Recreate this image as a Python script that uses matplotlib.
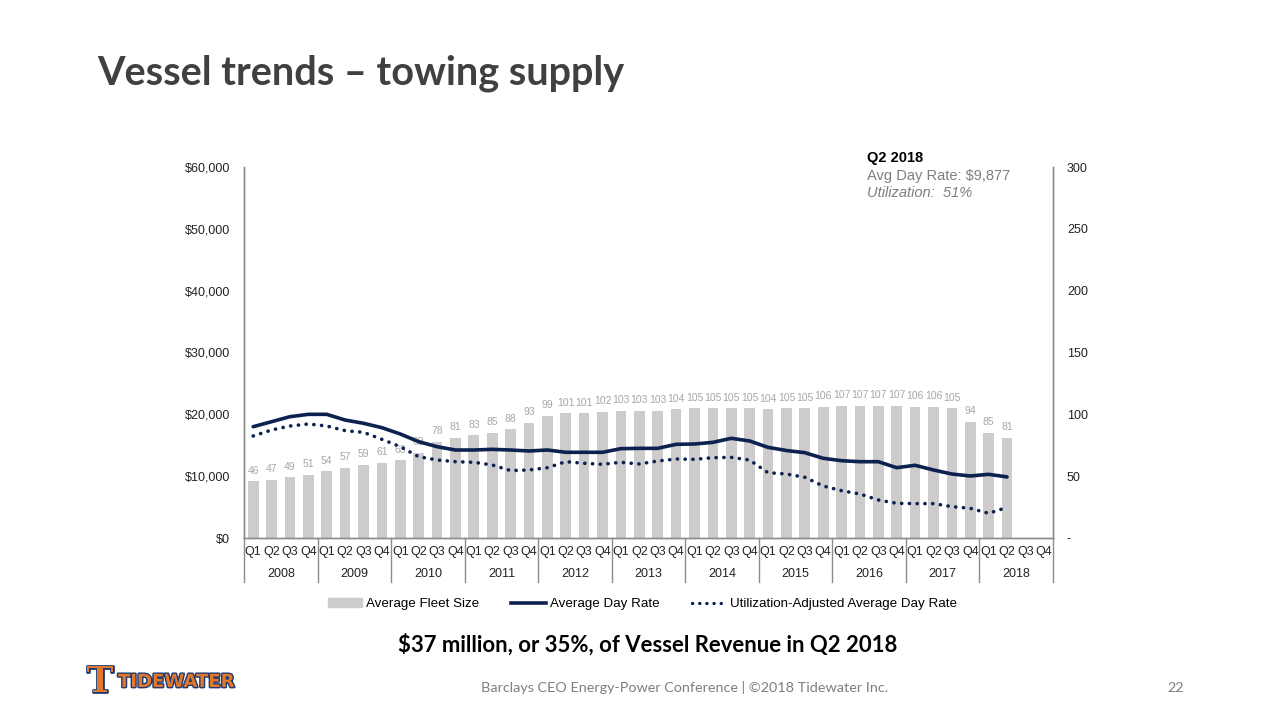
import matplotlib.pyplot as plt
import matplotlib.transforms as mtransforms
from matplotlib.lines import Line2D
from matplotlib.patches import Patch
import matplotlib.patheffects as pe

plt.rcParams['font.family'] = ['Liberation Sans', 'DejaVu Sans']

# data
years = ['2008', '2009', '2010', '2011', '2012', '2013',
         '2014', '2015', '2016', '2017', '2018']
quarters = ['Q1', 'Q2', 'Q3', 'Q4']

fleet_size = [46, 47, 49, 51, 54, 57, 59, 61, 63, 69, 78, 81,
              83, 85, 88, 93, 99, 101, 101, 102, 103, 103, 103, 104,
              105, 105, 105, 105, 104, 105, 105, 106, 107, 107, 107, 107,
              106, 106, 105, 94, 85, 81]

day_rate = [18000, 18810, 19620, 20000, 20000, 19080, 18550, 17840,
            16820, 15580, 14770, 14230, 14230, 14340, 14230, 14070,
            14230, 13860, 13860, 13860, 14450, 14500, 14500, 15150,
            15200, 15470, 16120, 15690, 14660, 14150, 13800, 12890,
            12500, 12340, 12340, 11370, 11760, 11000, 10350, 10030,
            10300, 9877]

util_rate = [16500, 17470, 18110, 18440, 18110, 17360, 17090, 15960,
             14770, 13150, 12620, 12340, 12240, 11810, 10900, 11000,
             11370, 12340, 12080, 11920, 12240, 11970, 12450, 12780,
             12720, 12990, 13040, 12610, 10560, 10350, 9820, 8410,
             7650, 7120, 6150, 5610, 5560, 5560, 5070, 4800,
             3990, 4950]

navy = '#0D2150'
bar_grey = '#CDCBCC'
axis_grey = '#8C8C8C'
dots = (0, (0.05, 2.1))

fig = plt.figure(figsize=(12.8, 7.2), dpi=100)

# main chart area
ax = fig.add_axes([244 / 1280, 182 / 720, 809 / 1280, 371 / 720])
ax2 = ax.twinx()
ax.set_zorder(ax2.get_zorder() + 1)
ax.patch.set_visible(False)

n_slots = len(years) * len(quarters)
x = list(range(len(fleet_size)))

bars = ax2.bar(x, fleet_size, width=0.58, color=bar_grey)
ax2.bar_label(bars, labels=[str(v) for v in fleet_size], padding=4,
              fontsize=7.5, color='#A6A6A6')

ax.plot(x, day_rate, color=navy, lw=2.6, solid_capstyle='round')
ax.plot(x, util_rate, color=navy, lw=2.6, linestyle=dots,
        dash_capstyle='round')

ax.set_xlim(-0.5, n_slots - 0.5)
ax.set_ylim(0, 60000)
ax2.set_ylim(0, 300)

ax.set_yticks(range(0, 60001, 10000))
ax.set_yticklabels(['${:,}'.format(v) for v in range(0, 60001, 10000)])
ax2.set_yticks(range(0, 301, 50))
ax2.set_yticklabels(['-'] + [str(v) for v in range(50, 301, 50)])

for a in (ax, ax2):
    a.tick_params(axis='y', length=0, labelsize=9, colors='#222222', pad=10)
    a.spines['top'].set_visible(False)
    for s in ('left', 'right', 'bottom'):
        a.spines[s].set_color(axis_grey)
        a.spines[s].set_linewidth(1)

ax.set_xticks(range(n_slots))
ax.set_xticklabels(quarters * len(years))
ax.tick_params(axis='x', length=0, labelsize=9, colors='#222222', pad=6)
ax2.tick_params(axis='x', length=0)

# year row and dividers under the quarter labels
trans = mtransforms.blended_transform_factory(ax.transData, ax.transAxes)
for i, yr in enumerate(years):
    ax.text(i * 4 + 1.5, -0.097, yr, transform=trans, ha='center',
            va='center', fontsize=9, color='#222222')
for i in range(len(years) + 1):
    ax.plot([i * 4 - 0.5, i * 4 - 0.5], [0, -0.119], transform=trans,
            color=axis_grey, lw=1, clip_on=False)

# callout
fig.text(867 / 1280, 1 - 158 / 720, 'Q2 2018', fontsize=10.5,
         fontweight='bold', color='black', va='center')
fig.text(867 / 1280, 1 - 176 / 720, 'Avg Day Rate: $9,877', fontsize=10.5,
         color='#7F7F7F', va='center')
fig.text(867 / 1280, 1 - 193 / 720, 'Utilization:  51%', fontsize=10.5,
         color='#7F7F7F', style='italic', va='center')

# legend
handles = [Patch(color=bar_grey),
           Line2D([0], [0], color=navy, lw=2.6),
           Line2D([0], [0], color=navy, lw=2.4, linestyle=dots,
                  dash_capstyle='round')]
fig.legend(handles, ['Average Fleet Size', 'Average Day Rate',
                     'Utilization-Adjusted Average Day Rate'],
           loc='center', bbox_to_anchor=(0.502, 1 - 604 / 720), ncol=3,
           frameon=False, fontsize=9.6, handlelength=2.6, handletextpad=0.3,
           columnspacing=2.4)

# slide text
fig.text(97 / 1280, 1 - 73 / 720, 'Vessel trends \u2013 towing supply',
         fontsize=28.5, fontweight='bold', color='#404040', va='center',
         family=['Lato', 'DejaVu Sans'])
fig.text(648 / 1280, 1 - 645 / 720,
         '$37 million, or 35%, of Vessel Revenue in Q2 2018',
         fontsize=15.9, fontweight='bold', color='black', ha='center',
         va='center', family=['Lato', 'DejaVu Sans'])
fig.text(685 / 1280, 1 - 688 / 720,
         'Barclays CEO Energy-Power Conference | \u00a92018 Tidewater Inc.',
         fontsize=10.4, color='#7F7F7F', ha='center', va='center',
         family=['Lato', 'DejaVu Sans'])
fig.text(1176 / 1280, 1 - 688 / 720, '22', fontsize=10.4, color='#7F7F7F',
         ha='center', va='center', family=['Lato', 'DejaVu Sans'])

# logo, roughly
outline = [pe.withStroke(linewidth=2, foreground='#1F3A73')]
fig.text(100 / 1280, 1 - 682 / 720, 'T', fontsize=26, fontweight='bold',
         color='#E0772A', ha='center', va='center', path_effects=outline,
         family=['DejaVu Serif'])
fig.text(118 / 1280, 1 - 682 / 720, 'TIDEWATER', fontsize=13,
         fontweight='bold', color='#E0772A', va='center',
         path_effects=outline, family=['DejaVu Sans'])

fig.savefig('out.png', dpi=100)
